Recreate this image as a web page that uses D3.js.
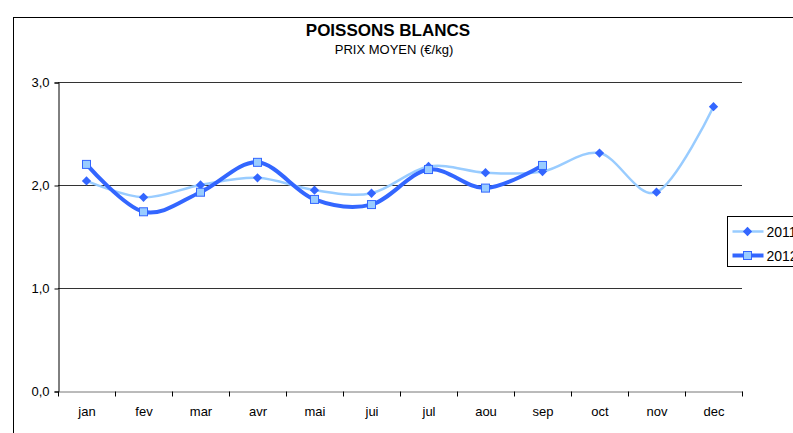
<!DOCTYPE html>
<html>
<head>
<meta charset="utf-8">
<script src="https://cdn.jsdelivr.net/npm/d3@7"></script>
<style>
  body { margin: 0; background: #fff; }
  svg { display: block; font-family: "Liberation Sans", Arial, sans-serif; }
</style>
</head>
<body>
<script>
const months = ["jan", "fev", "mar", "avr", "mai", "jui", "jul", "aou", "sep", "oct", "nov", "dec"]
const prix2011 = [2.04, 1.88, 2.00, 2.07, 1.95, 1.92, 2.18, 2.12, 2.13, 2.31, 1.93, 2.76]
const prix2012 = [2.20, 1.74, 1.93, 2.22, 1.86, 1.81, 2.15, 1.97, 2.19]
const yTicks = [0, 1, 2, 3]
const seriesNames = ["2011", "2012"]

const width = 793
const height = 433
const plot = { left: 58, right: 742, top: 82, bottom: 391 }

const svg = d3.select("body")
    .append("svg")
    .attr("width", width)
    .attr("height", height)

// outer chart frame
svg.append("rect")
    .attr("x", 13.5).attr("y", 17.5)
    .attr("width", 820).attr("height", 440)
    .attr("fill", "none").attr("stroke", "#000").attr("stroke-width", 1)

svg.append("text")
    .attr("x", 388).attr("y", 36)
    .attr("text-anchor", "middle")
    .attr("font-size", 17).attr("font-weight", "bold")
    .text("POISSONS BLANCS")
svg.append("text")
    .attr("x", 394).attr("y", 54)
    .attr("text-anchor", "middle")
    .attr("font-size", 13)
    .text("PRIX MOYEN (€/kg)")

const x = d3.scaleBand().domain(months).range([plot.left, plot.right])
const y = d3.scaleLinear().domain([0, 3]).range([plot.bottom, plot.top])

// horizontal grid
svg.append("g")
    .selectAll("line")
    .data(yTicks.slice(1))
    .join("line")
    .attr("x1", plot.left).attr("x2", plot.right)
    .attr("y1", (d) => Math.round(y(d)) + 0.5).attr("y2", (d) => Math.round(y(d)) + 0.5)
    .attr("stroke", "#333").attr("stroke-width", 1)

const fmt = (d) => d3.format(".1f")(d).replace(".", ",")

const yAxis = svg.append("g")
    .attr("transform", `translate(${plot.left + 0.5},0.5)`)
    .call(d3.axisLeft(y).tickValues(yTicks).tickFormat(fmt).tickSize(4).tickPadding(5))
yAxis.select(".domain").attr("stroke", "#000")
yAxis.selectAll("text").attr("font-size", 13).attr("fill", "#000").attr("font-family", "Liberation Sans, Arial, sans-serif")

const xAxis = svg.append("g")
    .attr("transform", `translate(0.5,${Math.round(plot.bottom) + 0.5})`)
    .call(d3.axisBottom(x).tickSize(0).tickPadding(15))
xAxis.select(".domain").attr("stroke", "#777")
xAxis.selectAll("text").attr("font-size", 13).attr("fill", "#000").attr("font-family", "Liberation Sans, Arial, sans-serif")
// ticks at band boundaries
xAxis.selectAll("line.bound")
    .data(d3.range(months.length + 1))
    .join("line")
    .attr("class", "bound")
    .attr("x1", (i) => Math.round(plot.left + i * x.bandwidth()))
    .attr("x2", (i) => Math.round(plot.left + i * x.bandwidth()))
    .attr("y1", 0).attr("y2", 5)
    .attr("stroke", "#000")

const line = d3.line()
    .x((d, i) => x(months[i]) + x.bandwidth() / 2)
    .y((d) => y(d))
    .curve(d3.curveCardinal.tension(0))

const light = "#99ccff"
const dark = "#3366ff"

svg.append("path")
    .attr("d", line(prix2011))
    .attr("fill", "none").attr("stroke", light).attr("stroke-width", 2.5)
svg.append("path")
    .attr("d", line(prix2012))
    .attr("fill", "none").attr("stroke", dark).attr("stroke-width", 4)

const diamond = d3.symbol().type(d3.symbolDiamond2).size(55)
svg.append("g")
    .selectAll("path")
    .data(prix2011)
    .join("path")
    .attr("transform", (d, i) => `translate(${x(months[i]) + x.bandwidth() / 2},${y(d)})`)
    .attr("d", diamond)
    .attr("fill", dark)

svg.append("g")
    .selectAll("rect")
    .data(prix2012)
    .join("rect")
    .attr("x", (d, i) => x(months[i]) + x.bandwidth() / 2 - 4)
    .attr("y", (d) => y(d) - 4)
    .attr("width", 8).attr("height", 8)
    .attr("fill", light).attr("stroke", dark).attr("stroke-width", 1)

// legend
const lg = svg.append("g").attr("transform", "translate(727.5,216.5)")
lg.append("rect")
    .attr("width", 90).attr("height", 50)
    .attr("fill", "#fff").attr("stroke", "#000")
seriesNames.forEach((name, i) => {
    const yy = 15 + i * 24
    const row = lg.append("g").attr("transform", `translate(0,${yy})`)
    row.append("line")
        .attr("x1", 5).attr("x2", 36)
        .attr("stroke", i === 0 ? light : dark)
        .attr("stroke-width", i === 0 ? 2.5 : 4)
    if (i === 0) {
        row.append("path").attr("transform", "translate(20,0)").attr("d", diamond).attr("fill", dark)
    } else {
        row.append("rect").attr("x", 16).attr("y", -4).attr("width", 8).attr("height", 8)
            .attr("fill", light).attr("stroke", dark)
    }
    row.append("text")
        .attr("x", 39).attr("y", 5)
        .attr("font-size", 14)
        .text(name)
})
</script>
</body>
</html>
